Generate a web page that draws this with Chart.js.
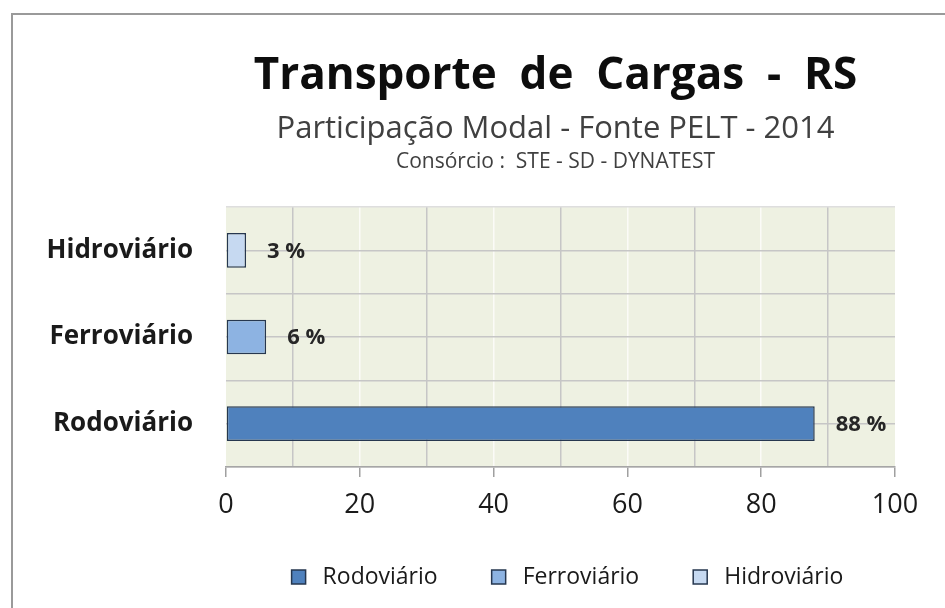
<!DOCTYPE html>
<html>
<head>
<meta charset="utf-8">
<script src="https://cdn.jsdelivr.net/npm/chart.js@4/dist/chart.umd.min.js"></script>
<style>
  html, body { margin: 0; padding: 0; background: #fff; overflow: hidden; }
  #wrap { position: relative; width: 945px; height: 608px; }
  #moldura { position: absolute; left: 11px; top: 13px; width: 1000px; height: 700px; border: 2px solid #9a9a9a; }
  canvas { position: absolute; left: 0; top: 0; }
</style>
</head>
<body>
<div id="wrap">
  <div id="moldura"></div>
  <canvas id="chart" width="945" height="608"></canvas>
</div>
<script>
// categorias do eixo (de cima para baixo)
const categorias = ['Hidroviário', 'Ferroviário', 'Rodoviário'];
// series (ordem da legenda)
const modais = ['Rodoviário', 'Ferroviário', 'Hidroviário'];
const participacao = [88, 6, 3];
const cores = ['#4f81bd', '#8db3e2', '#c6d9f1'];

const titulo = 'Transporte  de  Cargas  -  RS';
const subtitulo = 'Participação Modal - Fonte PELT - 2014';
const consorcio = 'Consórcio :  STE - SD - DYNATEST';

const chart = document.querySelector('#chart');

const datasets = modais.map(function (nome, i) {
  return {
    label: nome,
    data: categorias.map(function (c) { return c === nome ? participacao[i] : null }),
    backgroundColor: cores[i],
    borderColor: '#26374f',
    borderWidth: 1.5,
    borderSkipped: false
  }
});

// fundo da area de plotagem
const fundo = {
  id: 'fundo',
  beforeDraw(c) {
    const a = c.chartArea;
    c.ctx.save();
    c.ctx.fillStyle = '#eef1e2';
    c.ctx.fillRect(a.left, a.top, a.right - a.left, a.bottom - a.top);
    c.ctx.restore();
  }
};

// titulos
const cabecalho = {
  id: 'cabecalho',
  afterDraw(c) {
    const ctx = c.ctx;
    const cx = (c.chartArea.left + c.chartArea.right) / 2 - 5;
    ctx.save();
    ctx.textAlign = 'center';
    ctx.textBaseline = 'alphabetic';
    ctx.fillStyle = '#0d0d0d';
    ctx.font = 'bold 44px "Open Sans"';
    ctx.fillText(titulo, cx, 89);
    ctx.fillStyle = '#404040';
    ctx.font = '31px "Open Sans"';
    ctx.fillText(subtitulo, cx, 138);
    ctx.font = '21px "Open Sans"';
    ctx.fillText(consorcio, cx, 168);
    ctx.restore();
  }
};

// legenda desenhada abaixo do grafico
const legenda = {
  id: 'legenda',
  afterDraw(c) {
    const ctx = c.ctx;
    const y = 577;
    const caixa = 14, espaco = 17, intervalo = 54;
    ctx.save();
    ctx.font = '23px "Open Sans"';
    ctx.textBaseline = 'middle';
    ctx.textAlign = 'left';
    const larguras = c.data.datasets.map(function (ds) { return ctx.measureText(ds.label).width });
    let total = 0;
    larguras.forEach(function (w) { total += caixa + espaco + w });
    total += intervalo * (larguras.length - 1);
    let x = (c.chartArea.left + c.chartArea.right) / 2 + 7 - total / 2;
    c.data.datasets.forEach(function (ds, i) {
      ctx.fillStyle = ds.backgroundColor;
      ctx.fillRect(x, y - caixa / 2, caixa, caixa);
      ctx.strokeStyle = ds.borderColor;
      ctx.lineWidth = 1.5;
      ctx.strokeRect(x, y - caixa / 2, caixa, caixa);
      ctx.fillStyle = '#1a1a1a';
      ctx.fillText(ds.label, x + caixa + espaco, y);
      x += caixa + espaco + larguras[i] + intervalo;
    });
    ctx.restore();
  }
};

// rotulos de valor
const rotulos = {
  id: 'rotulos',
  afterDatasetsDraw(c) {
    const ctx = c.ctx;
    ctx.save();
    ctx.font = 'bold 22px "Open Sans"';
    ctx.fillStyle = '#262626';
    ctx.textAlign = 'left';
    ctx.textBaseline = 'middle';
    c.data.datasets.forEach(function (ds, i) {
      c.getDatasetMeta(i).data.forEach(function (bar, j) {
        if (ds.data[j] == null) return;
        ctx.fillText(ds.data[j] + ' %', bar.x + 21, bar.y + 1);
      });
    });
    ctx.restore();
  }
};

const grafico = new Chart(chart, {
  type: 'bar',
  data: {
    labels: categorias,
    datasets: datasets
  },
  options: {
    indexAxis: 'y',
    responsive: false,
    animation: false,
    grouped: false,
    categoryPercentage: 0.4,
    barPercentage: 1,
    layout: { padding: { top: 207, right: 50, bottom: 81, left: 0 } },
    plugins: {
      tooltip: { enabled: false },
      legend: { display: false }
    },
    scales: {
      x: {
        min: 0,
        max: 100,
        ticks: {
          stepSize: 10,
          autoSkip: false,
          maxRotation: 0,
          padding: 12,
          color: '#1a1a1a',
          font: { family: 'Open Sans', size: 27 },
          callback: function (v) { return v % 20 === 0 ? v : '' }
        },
        grid: {
          lineWidth: 1.5,
          tickLength: 10,
          color: function (ctx) {
            const v = ctx.tick ? ctx.tick.value : 0;
            if (v === 0 || v === 100) return 'rgba(0,0,0,0)';
            return v % 20 === 0 ? '#fbfbf7' : '#c6c6c6';
          },
          tickColor: function (ctx) {
            const v = ctx.tick ? ctx.tick.value : 0;
            return v % 20 === 0 ? '#a0a0a0' : 'rgba(0,0,0,0)';
          }
        },
        border: { color: '#a6a6a6', width: 1.5 },
        afterFit: function (s) { s.height = 60; }
      },
      y: {
        ticks: {
          padding: 33,
          color: '#1a1a1a',
          font: { family: 'Open Sans', size: 26, weight: 'bold' }
        },
        grid: {
          lineWidth: 1.5,
          drawTicks: false,
          color: function (ctx) { return ctx.index === 0 ? '#dedede' : '#c6c6c6' }
        },
        border: { display: false },
        afterFit: function (s) { s.width = 226; }
      },
      yc: {
        type: 'category',
        axis: 'y',
        position: 'right',
        offset: true,
        ticks: { display: false },
        grid: { offset: false, lineWidth: 1.5, color: '#c6c6c6', drawTicks: false },
        border: { display: false },
        afterFit: function (s) { s.width = 0; }
      }
    }
  },
  plugins: [fundo, cabecalho, rotulos, legenda]
});
</script>
</body>
</html>
